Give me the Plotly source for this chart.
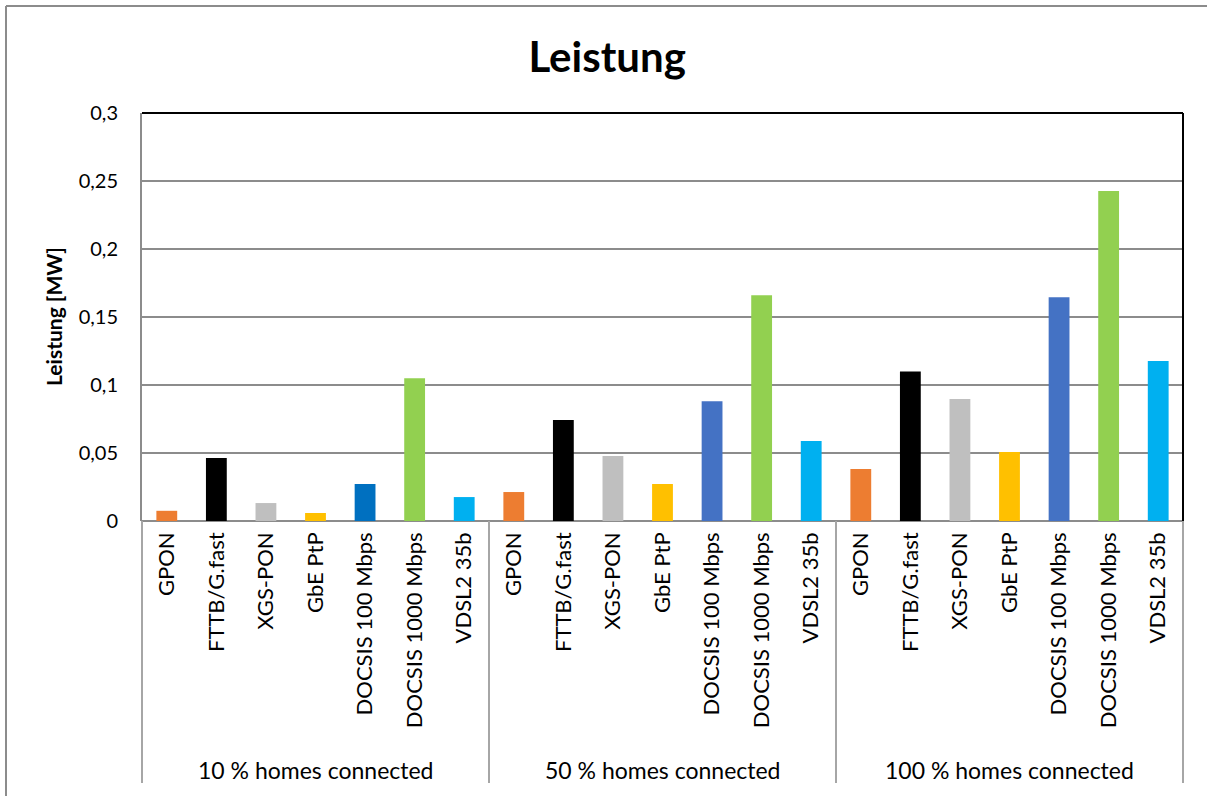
import plotly.graph_objects as go

groups = ["10 % homes connected", "50 % homes connected", "100 % homes connected"]
techs = ["GPON", "FTTB/G.fast", "XGS-PON", "GbE PtP", "DOCSIS 100 Mbps", "DOCSIS 1000 Mbps", "VDSL2 35b"]

# values per technology for each group (MW)
gpon = [0.0075, 0.0213, 0.0382]
fttb = [0.0463, 0.0743, 0.110]
xgspon = [0.0132, 0.0478, 0.0897]
gbe = [0.0059, 0.0272, 0.0507]
docsis100 = [0.0272, 0.088, 0.1645]
docsis1000 = [0.105, 0.166, 0.2426]
vdsl = [0.0176, 0.0588, 0.1176]

series = [gpon, fttb, xgspon, gbe, docsis100, docsis1000, vdsl]
colors = [
    ["#ED7D31"] * 3,
    ["#000000"] * 3,
    ["#BFBFBF"] * 3,
    ["#FFC000"] * 3,
    ["#0070C0", "#4472C4", "#4472C4"],
    ["#92D050"] * 3,
    ["#00B0F0"] * 3,
]

n_t = len(techs)
n_g = len(groups)

fig = go.Figure()
for i, (name, vals) in enumerate(zip(techs, series)):
    xs = [g * n_t + i for g in range(n_g)]
    fig.add_trace(go.Bar(x=xs, y=vals, name=name, width=0.42,
                         marker=dict(color=colors[i], line=dict(width=0)),
                         showlegend=False))

tickvals = [g * n_t + i for g in range(n_g) for i in range(n_t)]
ticktext = [t for g in range(n_g) for t in techs]

FONT = "Lato"
W, H = 1207, 796
ml, mr, mt, mb = 142, 24, 113, 275
pw, ph = W - ml - mr, H - mt - mb

def px_x(px):
    return (px - ml) / pw

def px_y(py):
    return (H - mb - py) / ph

shapes = []
# outer chart border (left and top visible)
shapes.append(dict(type="line", xref="paper", yref="paper",
                   x0=px_x(6), x1=px_x(W), y0=px_y(6), y1=px_y(6),
                   line=dict(color="#8C8C8C", width=2), layer="below"))
shapes.append(dict(type="line", xref="paper", yref="paper",
                   x0=px_x(6), x1=px_x(6), y0=px_y(6), y1=px_y(H),
                   line=dict(color="#8C8C8C", width=2), layer="below"))
# plot area top and right borders
shapes.append(dict(type="line", xref="paper", yref="paper", x0=0, x1=1, y0=1, y1=1,
                   line=dict(color="#000000", width=2)))
shapes.append(dict(type="line", xref="paper", yref="paper", x0=1, x1=1, y0=0, y1=1,
                   line=dict(color="#000000", width=2)))
# group dividers
for k in range(n_g + 1):
    shapes.append(dict(type="line", xref="paper", yref="paper",
                       x0=k / n_g, x1=k / n_g, y0=0, y1=px_y(783),
                       line=dict(color="#A6A6A6", width=2)))

annotations = []
for g, name in enumerate(groups):
    annotations.append(dict(text=name, xref="x", yref="paper",
                            x=g * n_t + (n_t - 1) / 2, y=px_y(770),
                            showarrow=False, xanchor="center", yanchor="middle",
                            font=dict(family=FONT, size=23, color="#000000")))
annotations.append(dict(text="<b>Leistung [MW]</b>", xref="paper", yref="paper",
                        x=px_x(53), y=0.5, textangle=-90, showarrow=False,
                        xanchor="center", yanchor="middle",
                        font=dict(family=FONT, size=21, color="#000000")))

fig.update_layout(
    width=W, height=H,
    margin=dict(l=ml, r=mr, t=mt, b=mb, autoexpand=False),
    paper_bgcolor="#FFFFFF", plot_bgcolor="#FFFFFF",
    separators=", ",
    barmode="overlay",
    title=dict(text="<b>Leistung</b>", x=0.503, xref="container", y=1 - 57 / H,
               yref="container", xanchor="center", yanchor="middle",
               font=dict(family=FONT, size=42, color="#000000")),
    xaxis=dict(range=[-0.5, n_t * n_g - 0.5], tickmode="array",
               tickvals=tickvals, ticktext=ticktext, tickangle=-90,
               showgrid=False, zeroline=False, showline=False, ticks="",
               ticklabelstandoff=6,
               tickfont=dict(family=FONT, size=22, color="#000000")),
    yaxis=dict(range=[0, 0.3], dtick=0.05, tick0=0,
               showgrid=True, gridcolor="#8C8C8C", gridwidth=2,
               zeroline=True, zerolinecolor="#8C8C8C", zerolinewidth=2,
               showline=True, linecolor="#8C8C8C", linewidth=2,
               ticks="", ticklabelstandoff=18,
               tickfont=dict(family=FONT, size=20, color="#000000")),
    shapes=shapes,
    annotations=annotations,
)

fig.write_html("out.html", config={"displayModeBar": False},
               post_script="document.body.style.margin='0';")
